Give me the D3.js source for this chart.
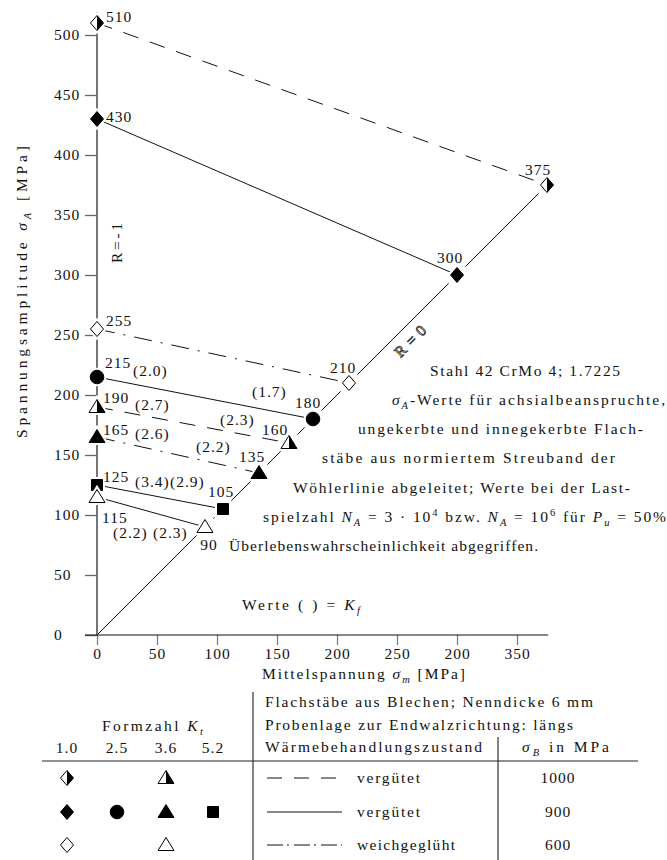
<!DOCTYPE html>
<html>
<head>
<meta charset="utf-8">
<script src="https://cdn.jsdelivr.net/npm/d3@7"></script>
<style>
body { margin: 0; background: #fff; }
svg text { font-family: "Liberation Serif", "Times New Roman", serif; font-size: 15.5px; fill: #111; }
.num { letter-spacing: 1px; }
</style>
</head>
<body>
<svg id="chart" width="667" height="860" font-family="Liberation Serif, serif"></svg>
<script>
// values
var ampR1 = [510, 430, 255, 215, 190, 165, 125, 115];   // sigma_A at sigma_m = 0 (R=-1)
var ampR0 = [375, 300, 210, 180, 160, 135, 105, 90];    // sigma_A = sigma_m (R=0)
var lineMarker = ["halfDiamond", "diamond", "openDiamond", "circle", "halfTriangle", "triangle", "square", "openTriangle"];
var lineStyle = ["dash", "solid", "dashdot", "solid", "dash", "dashdot", "solid", "solid"];
var kfR1 = [null, null, null, "(2.0)", "(2.7)", "(2.6)", "(3.4)", "(2.2)"];
var kfR0 = [null, null, null, "(1.7)", "(2.3)", "(2.2)", "(2.9)", "(2.3)"];

var yTicks = [0, 50, 100, 150, 200, 250, 300, 350, 400, 450, 500];
var xTicks = [0, 50, 100, 150, 200, 250, 300, 350];
var xTickLabels = ["0", "50", "100", "150", "200", "250", "200", "350"];   // as printed

var ktValues = ["1.0", "2.5", "3.6", "5.2"];
var legendState = ["vergütet", "vergütet", "weichgeglüht"];
var legendStrength = ["1000", "900", "600"];
var legendStyle = ["dash", "solid", "dashdot"];
var legendMarkers = [
  ["halfDiamond", null, "halfTriangle", null],
  ["diamond", "circle", "triangle", "square"],
  ["openDiamond", null, "openTriangle", null]
];

var noteLines = [
  "Stahl 42 CrMo 4; 1.7225",
  "*σ*_{A}-Werte für achsialbeanspruchte,",
  "ungekerbte und innegekerbte Flach-",
  "stäbe aus normiertem Streuband der",
  "Wöhlerlinie abgeleitet; Werte bei der Last-",
  "spielzahl *N*_{A} = 3 · 10^{4} bzw. *N*_{A} = 10^{6} für *P*_{u} = 50%",
  "Überlebenswahrscheinlichkeit abgegriffen."
];

// layout (pixels)
var notePos = [[430, 376, 190], [392, 405, 273], [358, 434, 285], [322, 463, 293], [293, 493, 337], [263, 522, 403], [229, 551, 309]];
var r1LabelOff = [[9, -1], [9, 3], [9, -3], [8, -9], [6, -4], [6, -2], [6, -3], [5, 26]];
var r0LabelOff = [[-9, -10], [-7, -12], [-6, -10], [-5, -11], [-14, -8], [-7, -11], [-2, -12], [4, 23]];
var kf1Off = [null, null, null, [36, -1], [38, 3], [38, 2], [38, 2], [16, 41]];
var kf2Off = [null, null, null, ["end", -61, -22], ["end", -69, -18], ["end", -63, -21], ["start", 73, 2], ["start", 56, 41]];
var dashes = { dash: "16,12", solid: null, dashdot: "18,9,2,9" };
var legendDashes = { dash: "15,12", solid: null, dashdot: "16,4,2,5" };

var svg = d3.select("#chart");
var x = d3.scaleLinear().domain([0, 350]).range([97, 517]);
var y = d3.scaleLinear().domain([0, 500]).range([635, 35]);

// rich text: *italic*, _{sub}, ^{sup}
function rich(sel, str) {
  var parts = str.split(/(\*[^*]+\*|_\{[^}]*\}|\^\{[^}]*\})/).filter(function (p) { return p.length; });
  var shift = 0;
  parts.forEach(function (p) {
    var t = sel.append("tspan"), dy = 0;
    if (p[0] == "*") t.attr("font-style", "italic").text(p.slice(1, -1));
    else if (p[0] == "_") { t.attr("font-style", "italic").style("font-size", "10.5px").text(p.slice(2, -1)); dy = 3.5; }
    else if (p[0] == "^") { t.style("font-size", "10.5px").text(p.slice(2, -1)); dy = -6; }
    else t.text(p);
    if (dy - shift !== 0) t.attr("dy", dy - shift);
    shift = dy;
  });
  return sel;
}

function marker(g, type, cx, cy) {
  var m = g.append("g").attr("transform", "translate(" + cx + "," + cy + ")");
  var dia = [[0, -7.5], [6.5, 0], [0, 7.5], [-6.5, 0]];
  var tri = [[0, -7.5], [8, 5.5], [-8, 5.5]];
  var line = d3.line();
  var shape, fill;
  if (type.indexOf("iamond") > 0) shape = line(dia) + "Z";
  else if (type.indexOf("riangle") > 0) shape = line(tri) + "Z";
  else if (type == "square") shape = "M-5.5,-5.5H5.5V5.5H-5.5Z";
  else shape = d3.arc()({ innerRadius: 0, outerRadius: 6.8, startAngle: 0, endAngle: 2 * Math.PI });
  fill = (type.indexOf("open") == 0 || type.indexOf("half") == 0) ? "#fff" : "#000";
  m.append("path").attr("d", shape).attr("fill", "none").attr("stroke", "#fff").attr("stroke-width", 5);
  m.append("path").attr("d", shape).attr("fill", fill).attr("stroke", "#000").attr("stroke-width", 1);
  if (type == "halfDiamond") m.append("path").attr("d", line([[0, -7.5], [6.5, 0], [0, 7.5]]) + "Z").attr("fill", "#000");
  if (type == "halfTriangle") m.append("path").attr("d", line([[0, -7.5], [8, 5.5], [0, 5.5]]) + "Z").attr("fill", "#000");
}

// R=0 diagonal, broken around markers
var stops = ampR0.slice().sort(d3.ascending), gap = 7, segs = [], from = 0;
stops.forEach(function (s) { if (s - gap > from) segs.push([from, s - gap]); from = s + gap; });
svg.append("g").selectAll("line").data(segs).join("line")
  .attr("x1", function (d) { return x(d[0]); }).attr("y1", function (d) { return y(d[0]); })
  .attr("x2", function (d) { return x(d[1]); }).attr("y2", function (d) { return y(d[1]); })
  .attr("stroke", "#111").attr("stroke-width", 1);

// axes
var yAxis = svg.append("g").attr("transform", "translate(" + x(0) + ",0)")
  .call(d3.axisLeft(y).tickValues(yTicks).tickSize(12).tickFormat(d3.format("d")));
yAxis.attr("font-family", null).attr("font-size", null);
yAxis.select(".domain").remove();
yAxis.selectAll(".tick line").attr("stroke", "#666").attr("stroke-width", 1.3);
yAxis.selectAll(".tick text").attr("x", -43).attr("text-anchor", "start").attr("class", "num").attr("fill", null);
svg.append("line").attr("x1", x(0)).attr("x2", x(0)).attr("y1", y(0)).attr("y2", y(519))
  .attr("stroke", "#666").attr("stroke-width", 1.8);

var xAxis = svg.append("g").attr("transform", "translate(0," + y(0) + ")")
  .call(d3.axisBottom(x).tickValues(xTicks).tickSize(10).tickPadding(3)
    .tickFormat(function (d, i) { return xTickLabels[i]; }));
xAxis.attr("font-family", null).attr("font-size", null);
xAxis.select(".domain").remove();
xAxis.selectAll(".tick line").attr("stroke", "#777").attr("stroke-width", 1.2);
xAxis.selectAll(".tick text").attr("class", "num").attr("fill", null);
svg.append("line").attr("x1", x(-10)).attr("x2", x(376)).attr("y1", y(0)).attr("y2", y(0))
  .attr("stroke", "#111").attr("stroke-width", 1.2);

// axis titles
rich(svg.append("text").attr("transform", "translate(27,292) rotate(-90)").attr("text-anchor", "middle")
  .attr("textLength", 292).attr("lengthAdjust", "spacing"), "Spannungsamplitude *σ*_{A} [MPa]");
rich(svg.append("text").attr("x", 262).attr("y", 679)
  .attr("textLength", 203).attr("lengthAdjust", "spacing"), "Mittelspannung *σ*_{m} [MPa]");

// series lines
var series = ampR1.map(function (a, i) { return { a: a, e: ampR0[i], m: lineMarker[i], s: lineStyle[i], i: i }; });
svg.append("g").selectAll("line").data(series).join("line")
  .attr("x1", x(0)).attr("y1", function (d) { return y(d.a); })
  .attr("x2", function (d) { return x(d.e); }).attr("y2", function (d) { return y(d.e); })
  .attr("stroke", "#111").attr("stroke-width", 1)
  .attr("stroke-dasharray", function (d) { return dashes[d.s]; });

// markers
var mg = svg.append("g");
series.forEach(function (d) {
  marker(mg, d.m, x(0), y(d.a));
  marker(mg, d.m, x(d.e), y(d.e));
});

// value labels
var lg = svg.append("g");
series.forEach(function (d, i) {
  lg.append("text").attr("class", "num").attr("x", x(0) + r1LabelOff[i][0]).attr("y", y(d.a) + r1LabelOff[i][1]).text(d.a);
  lg.append("text").attr("class", "num").attr("text-anchor", "middle")
    .attr("x", x(d.e) + r0LabelOff[i][0]).attr("y", y(d.e) + r0LabelOff[i][1]).text(d.e);
  if (kfR1[i]) lg.append("text").attr("class", "num").attr("x", x(0) + kf1Off[i][0]).attr("y", y(d.a) + kf1Off[i][1]).text(kfR1[i]);
  if (kfR0[i]) {
    var o = kf2Off[i], bx = o[0] == "end" ? x(d.e) : x(0), by = o[0] == "end" ? y(d.e) : y(d.a);
    lg.append("text").attr("class", "num").attr("x", bx + o[1]).attr("y", by + o[2]).text(kfR0[i]);
  }
});

// R labels
svg.append("text").attr("transform", "translate(122,243) rotate(-90)").attr("text-anchor", "middle")
  .attr("textLength", 40).attr("lengthAdjust", "spacing").text("R=-1");
svg.append("text").attr("transform", "translate(410,341) rotate(-45)")
  .attr("text-anchor", "middle").attr("dy", "0.35em").attr("textLength", 38).attr("lengthAdjust", "spacing")
  .style("fill", "#ddd").style("stroke", "#333").style("stroke-width", 0.8).text("R=0");

// note block
noteLines.forEach(function (s, i) {
  rich(svg.append("text").attr("x", notePos[i][0]).attr("y", notePos[i][1])
    .attr("textLength", notePos[i][2]).attr("lengthAdjust", "spacing"), s);
});
rich(svg.append("text").attr("x", 242).attr("y", 610).attr("textLength", 118).attr("lengthAdjust", "spacing"),
  "Werte ( ) = *K*_{f}");

// legend table
var ktX = [67, 117, 166, 213], rowY = [778, 812, 845];
var tg = svg.append("g");
tg.append("line").attr("x1", 253).attr("x2", 253).attr("y1", 692).attr("y2", 860).attr("stroke", "#333").attr("stroke-width", 1.2);
tg.append("line").attr("x1", 498).attr("x2", 498).attr("y1", 737).attr("y2", 860).attr("stroke", "#333").attr("stroke-width", 1.2);
tg.append("line").attr("x1", 42).attr("x2", 638).attr("y1", 761).attr("y2", 761).attr("stroke", "#222").attr("stroke-width", 1.2);
rich(tg.append("text").attr("x", 102).attr("y", 731).attr("textLength", 101).attr("lengthAdjust", "spacing"), "Formzahl *K*_{t}");
tg.selectAll(".kt").data(ktValues).join("text").attr("class", "num").attr("text-anchor", "middle")
  .attr("x", function (d, i) { return ktX[i]; }).attr("y", 753).text(function (d) { return d; });
tg.append("text").attr("x", 265).attr("y", 707).attr("textLength", 328).attr("lengthAdjust", "spacing").text("Flachstäbe aus Blechen; Nenndicke 6 mm");
tg.append("text").attr("x", 265).attr("y", 730).attr("textLength", 308).attr("lengthAdjust", "spacing").text("Probenlage zur Endwalzrichtung: längs");
tg.append("text").attr("x", 265).attr("y", 752).attr("textLength", 217).attr("lengthAdjust", "spacing").text("Wärmebehandlungszustand");
rich(tg.append("text").attr("x", 522).attr("y", 752).attr("textLength", 87).attr("lengthAdjust", "spacing"), "*σ*_{B} in MPa");

legendState.forEach(function (s, r) {
  tg.append("line").attr("x1", 267).attr("x2", 342).attr("y1", rowY[r]).attr("y2", rowY[r])
    .attr("stroke", "#111").attr("stroke-width", 1).attr("stroke-dasharray", legendDashes[legendStyle[r]]);
  tg.append("text").attr("x", 357).attr("y", rowY[r] + 5).attr("textLength", s.length > 9 ? 98 : 63)
    .attr("lengthAdjust", "spacing").text(s);
  tg.append("text").attr("class", "num").attr("text-anchor", "middle").attr("x", 558).attr("y", rowY[r] + 5).text(legendStrength[r]);
  legendMarkers[r].forEach(function (m, c) { if (m) marker(tg, m, ktX[c], rowY[r]); });
});
</script>
</body>
</html>
